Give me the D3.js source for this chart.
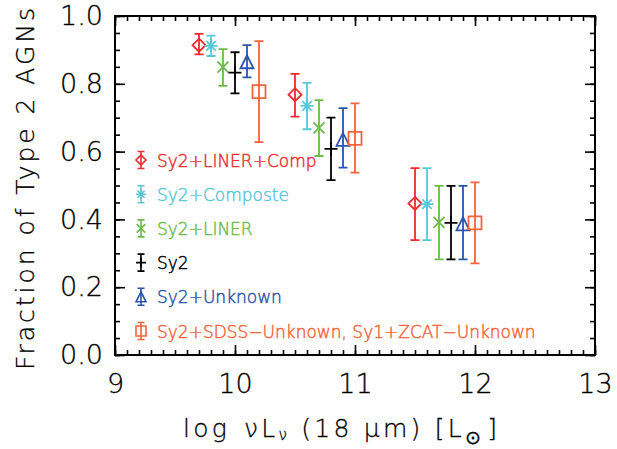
<!DOCTYPE html>
<html><head><meta charset="utf-8">
<script src="https://cdn.jsdelivr.net/npm/d3@7/dist/d3.min.js"></script>
<style>
body{margin:0;background:#fff;}
svg{display:block;}
text{font-family:"DejaVu Sans","Liberation Sans",sans-serif;font-weight:200;}
</style></head><body>
<svg id="c" width="617" height="449"></svg>
<script>
// ---- data ----
const seriesNames = ["Sy2+LINER+Comp","Sy2+Composte","Sy2+LINER","Sy2","Sy2+Unknown","Sy2+SDSS\u2212Unknown, Sy1+ZCAT\u2212Unknown"];
const seriesColors = ["#ee2b2e","#5bc8d6","#6cbb48","#000000","#2b55a8","#f5643a"];
const seriesSymbols = ["diamond","asterisk","x","plus","triangle","square"];

const xLinerComp = [9.7, 10.5, 11.5];
const yLinerComp = [0.914, 0.768, 0.447];
const loLinerComp = [0.887, 0.703, 0.339];
const hiLinerComp = [0.947, 0.829, 0.551];

const xComposte = [9.8, 10.6, 11.6];
const yComposte = [0.912, 0.735, 0.445];
const loComposte = [0.882, 0.666, 0.339];
const hiComposte = [0.942, 0.803, 0.551];

const xLiner = [9.9, 10.7, 11.7];
const yLiner = [0.849, 0.670, 0.391];
const loLiner = [0.794, 0.587, 0.282];
const hiLiner = [0.902, 0.752, 0.499];

const xSy2 = [10.0, 10.8, 11.8];
const ySy2 = [0.833, 0.608, 0.390];
const loSy2 = [0.772, 0.516, 0.282];
const hiSy2 = [0.893, 0.700, 0.499];

const xUnknown = [10.1, 10.9, 11.9];
const yUnknown = [0.865, 0.636, 0.387];
const loUnknown = [0.819, 0.553, 0.282];
const hiUnknown = [0.914, 0.728, 0.499];

const xSdss = [10.2, 11.0, 12.0];
const ySdss = [0.777, 0.639, 0.390];
const loSdss = [0.628, 0.538, 0.270];
const hiSdss = [0.926, 0.742, 0.509];

const xTicks = [9, 10, 11, 12, 13];
const yTicks = [0.0, 0.2, 0.4, 0.6, 0.8, 1.0];
const xLabel = "log";
const yLabel = "Fraction of Type 2 AGNs";

const allX = [xLinerComp,xComposte,xLiner,xSy2,xUnknown,xSdss];
const allY = [yLinerComp,yComposte,yLiner,ySy2,yUnknown,ySdss];
const allLo = [loLinerComp,loComposte,loLiner,loSy2,loUnknown,loSdss];
const allHi = [hiLinerComp,hiComposte,hiLiner,hiSy2,hiUnknown,hiSdss];

// ---- layout ----
const svg = d3.select("#c");
svg.append("rect").attr("width",617).attr("height",449).attr("fill","#fff");
const x = d3.scaleLinear().domain([9,13]).range([115,595]);
const y = d3.scaleLinear().domain([0,1]).range([355,16]);

const xMinor = d3.range(9,13.0001,0.1).map(v=>+v.toFixed(2));
const yMinor = d3.range(0,1.0001,0.05).map(v=>+v.toFixed(2));

function styleAxis(g){
  g.select(".domain").remove();
  g.selectAll("line").attr("stroke","#000").attr("stroke-width",1.6);
}
// bottom
svg.append("g").attr("transform","translate(0,355)").call(d3.axisBottom(x).tickValues(xMinor).tickSize(-5).tickFormat("")).call(styleAxis);
const bx = svg.append("g").attr("transform","translate(0,355)").call(d3.axisBottom(x).tickValues(xTicks).tickSize(-10).tickPadding(19).tickFormat(d3.format("d"))).call(styleAxis);
bx.selectAll("text").attr("font-size",27).attr("fill","#000").attr("stroke","#000").attr("stroke-width",0.3);
// top
svg.append("g").attr("transform","translate(0,16)").call(d3.axisTop(x).tickValues(xMinor).tickSize(-5).tickFormat("")).call(styleAxis);
svg.append("g").attr("transform","translate(0,16)").call(d3.axisTop(x).tickValues(xTicks).tickSize(-10).tickFormat("")).call(styleAxis);
// left
svg.append("g").attr("transform","translate(115,0)").call(d3.axisLeft(y).tickValues(yMinor).tickSize(-5).tickFormat("")).call(styleAxis);
const ly = svg.append("g").attr("transform","translate(115,0)").call(d3.axisLeft(y).tickValues(yTicks).tickSize(-10).tickPadding(12).tickFormat(d3.format(".1f"))).call(styleAxis);
ly.selectAll("text").attr("font-size",27).attr("fill","#000").attr("stroke","#000").attr("stroke-width",0.3);
// right
svg.append("g").attr("transform","translate(595,0)").call(d3.axisRight(y).tickValues(yMinor).tickSize(-5).tickFormat("")).call(styleAxis);
svg.append("g").attr("transform","translate(595,0)").call(d3.axisRight(y).tickValues(yTicks).tickSize(-10).tickFormat("")).call(styleAxis);
// frame
svg.append("rect").attr("x",x(9)).attr("y",y(1)).attr("width",x(13)-x(9)).attr("height",y(0)-y(1))
  .attr("fill","none").attr("stroke","#000").attr("stroke-width",2);

// ---- symbols ----
function symbolPath(type, s){
  switch(type){
    case "diamond": return `M0,${-s}L${s},0L0,${s}L${-s},0Z`;
    case "square": return `M${-s},${-s}H${s}V${s}H${-s}Z`;
    case "triangle": return `M${-s},${s}L0,${-s}L${s},${s}Z`;
    case "plus": return `M${-s},0H${s}M0,${-s}V${s}`;
    case "x": { const d=s*0.85; return `M${-d},${-d}L${d},${d}M${-d},${d}L${d},${-d}`; }
    case "asterisk": { const d=s*0.72; return `M${-s},0H${s}M0,${-s}V${s}M${-d},${-d}L${d},${d}M${-d},${d}L${d},${-d}`; }
  }
}
const cap = 4.5;
allX.forEach((xs,i)=>{
  const col = seriesColors[i];
  const g = svg.append("g").attr("stroke",col).attr("fill","none").attr("stroke-width",1.8);
  xs.forEach((xv,j)=>{
    const px = x(xv), lo = y(allLo[i][j]), hi = y(allHi[i][j]), py = y(allY[i][j]);
    g.append("path").attr("d",`M${px},${hi}V${lo}M${px-cap},${hi}H${px+cap}M${px-cap},${lo}H${px+cap}`);
    g.append("path").attr("transform",`translate(${px},${py})`).attr("d",symbolPath(seriesSymbols[i],6.5)).attr("stroke-width",1.8);
  });
});

// ---- legend ----
const legY0 = 160, legDy = 34.2;
seriesNames.forEach((n,i)=>{
  const cy = legY0 + i*legDy, cx = 141;
  const col = seriesColors[i];
  const g = svg.append("g").attr("stroke",col).attr("fill","none").attr("stroke-width",1.6);
  g.append("path").attr("d",`M${cx},${cy-8.5}V${cy+8.5}M${cx-3.5},${cy-8.5}H${cx+3.5}M${cx-3.5},${cy+8.5}H${cx+3.5}`);
  g.append("path").attr("transform",`translate(${cx},${cy})`).attr("d",symbolPath(seriesSymbols[i],5));
  svg.append("text").attr("x",157).attr("y",cy+6.5).attr("font-size",17)
    .attr("fill",col).attr("stroke",col).attr("stroke-width",0.45).text(n);
});

// ---- axis titles ----
svg.append("text").attr("transform","translate(34,189) rotate(-90)").attr("text-anchor","middle")
  .attr("font-size",25).attr("fill","#000").attr("stroke","#000").attr("stroke-width",0.3)
  .attr("textLength",362).attr("lengthAdjust","spacing").text(yLabel);

const xt = svg.append("text").attr("x",183).attr("y",437).attr("font-size",25).attr("fill","#000")
  .attr("stroke","#000").attr("stroke-width",0.3)
  .attr("textLength",314).attr("lengthAdjust","spacing");
xt.append("tspan").text(xLabel);
xt.append("tspan").attr("dx",14).text("\u03bd");
xt.append("tspan").text("L");
xt.append("tspan").attr("font-size",15).attr("dy",3).text("\u03bd");
xt.append("tspan").attr("dy",-3).text(" (18 ");
xt.append("tspan").text("\u03bc");
xt.append("tspan").text("m) [L");
xt.append("tspan").attr("font-size",19).attr("dy",7).text("\u2299");
xt.append("tspan").attr("dy",-7).attr("dx",3).text("]");
</script>
</body></html>
